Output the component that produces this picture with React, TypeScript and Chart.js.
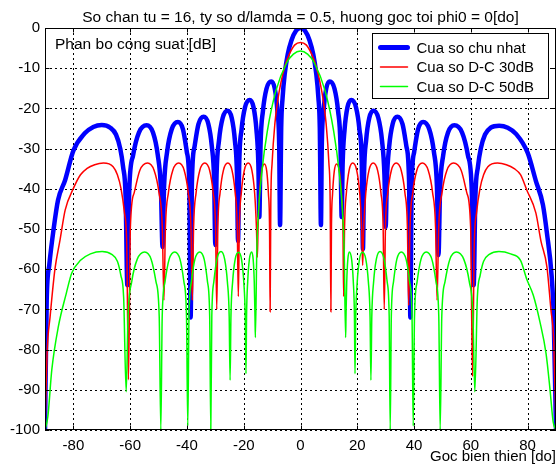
import React, { useEffect, useRef } from "react";
import { Chart, registerables } from "chart.js";

Chart.register(...registerables);

const titleText = "So chan tu = 16, ty so d/lamda = 0.5, huong goc toi phi0 = 0[do]";
const yAxisText = "Phan bo cong suat [dB]";
const xAxisText = "Goc bien thien [do]";
const seriesNames = ["Cua so chu nhat", "Cua so D-C 30dB", "Cua so D-C 50dB"];
const seriesColors = ["#0000ff", "#ff0000", "#00ff00"];
const xTickValues = [-80, -60, -40, -20, 0, 20, 40, 60, 80];
const yTickValues = [0, -10, -20, -30, -40, -50, -60, -70, -80, -90, -100];

// Rectangular window (uniform)
const rectAngles = [
  -90, -89.4, -88.5, -87, -85.4, -82.9, -80, -76, -73, -70, -67, -65, -63.5, -62.5, -61.6, -61,
  -60.32, -58.96, -56.92, -54.2, -51.96, -50.28, -49.16, -48.6,
  -48.06, -46.98, -45.36, -43.2, -41.4, -40.05, -39.15, -38.7,
  -38.24, -37.32, -35.94, -34.1, -32.46, -31.23, -30.41, -30,
  -29.57, -28.71, -27.42, -25.7, -24.22, -23.11, -22.37, -22,
  -21.59, -20.77, -19.54, -17.9, -16.54, -15.52, -14.84, -14.5,
  -14.08, -13.24, -11.98, -10.3, -9.06, -8.13, -7.5, -7.2,
  -6.8, -6.3, -5.5, -4.5, -3.2, -1.5, 0, 1.5, 3.2, 4.5, 5.5, 6.3, 6.8, 7.2,
  7.5, 8.13, 9.06, 10.3, 11.98, 13.24, 14.08, 14.5,
  14.84, 15.52, 16.54, 17.9, 19.54, 20.77, 21.59, 22,
  22.37, 23.11, 24.22, 25.7, 27.42, 28.71, 29.57, 30,
  30.41, 31.23, 32.46, 34.1, 35.94, 37.32, 38.24, 38.7,
  39.15, 40.05, 41.4, 43.2, 45.36, 46.98, 48.06, 48.6,
  49.16, 50.28, 51.96, 54.2, 56.92, 58.96, 60.32, 61,
  61.6, 62.5, 63.5, 65, 67, 70, 73, 76, 80, 82.9, 85.4, 86.8, 88.5, 89.2, 90,
];
const rectDb = [
  -100, -67.7, -59, -50.2, -42.8, -37.8, -30.5, -26.2, -24.6, -24.1, -24.8, -26.5, -30, -34.5, -42, -64,
  -40.2, -31.6, -26, -24.2, -26, -31.6, -40.2, -54.5,
  -39.4, -30.8, -25.2, -23.4, -25.2, -30.8, -39.4, -72,
  -38.1, -29.5, -23.9, -22.1, -23.9, -29.5, -38.1, -54,
  -36.6, -28, -22.4, -20.6, -22.4, -28, -36.6, -53,
  -33.9, -25.3, -19.7, -17.9, -19.7, -25.3, -33.9, -47,
  -29.3, -20.7, -15.1, -13.3, -15.1, -20.7, -29.3, -49,
  -25, -17.3, -11.1, -6.6, -3.1, -0.6, 0, -0.6, -3.1, -6.6, -11.1, -17.3, -25, -49,
  -29.3, -20.7, -15.1, -13.3, -15.1, -20.7, -29.3, -47,
  -33.9, -25.3, -19.7, -17.9, -19.7, -25.3, -33.9, -55,
  -36.6, -28, -22.4, -20.6, -22.4, -28, -36.6, -49.5,
  -38.1, -29.5, -23.9, -22.1, -23.9, -29.5, -38.1, -72,
  -39.4, -30.8, -25.2, -23.4, -25.2, -30.8, -39.4, -56.5,
  -40.2, -31.6, -26, -24.2, -26, -31.6, -40.2, -64,
  -42, -34.5, -30, -26.5, -24.8, -24.3, -24.8, -26.4, -31, -38, -44, -51, -62, -72, -100,
];

// Dolph-Chebyshev 30 dB
const dc30Angles = [
  -90, -89.2, -88.2, -86.5, -84.7, -82.9, -80, -77.5, -75.3, -72.5, -69.4, -66, -64.5, -63.2, -62, -61.2, -60.6,
  -59.93, -58.59, -56.58, -53.9, -51.58, -49.84, -48.68, -48.1,
  -47.58, -46.54, -44.98, -42.9, -40.98, -39.54, -38.58, -38.1,
  -37.66, -36.78, -35.46, -33.7, -32.02, -30.76, -29.92, -29.5,
  -29.11, -28.33, -27.16, -25.6, -24.12, -23.01, -22.27, -21.9,
  -21.55, -20.85, -19.8, -18.4, -17.12, -16.16, -15.52, -15.2,
  -14.95, -14.45, -13.7, -12.7, -11.9, -11.3, -10.9, -10.7,
  -10.46, -10, -9, -8, -6.9, -5.5, -4, -2, 0, 2, 4, 5.5, 6.9, 8, 9, 10, 10.46, 10.7,
  10.9, 11.3, 11.9, 12.7, 13.7, 14.45, 14.95, 15.2,
  15.52, 16.16, 17.12, 18.4, 19.8, 20.85, 21.55, 21.9,
  22.27, 23.01, 24.12, 25.6, 27.16, 28.33, 29.11, 29.5,
  29.92, 30.76, 32.02, 33.7, 35.46, 36.78, 37.66, 38.1,
  38.58, 39.54, 40.98, 42.9, 44.98, 46.54, 47.58, 48.1,
  48.68, 49.84, 51.58, 53.9, 56.58, 58.59, 59.93, 60.6,
  61.2, 62, 63.2, 64.5, 66, 69.4, 72.5, 75.3, 77.5, 79.7, 82.9, 84.7, 86.8, 88.2, 89.2, 90,
];
const dc30Db = [
  -100, -80, -71.8, -60, -52.7, -45.3, -39.9, -36.5, -35, -34, -33.6, -34.5, -36.5, -40, -46, -54, -87.5,
  -49.6, -41, -35.4, -33.6, -35.4, -41, -49.6, -67.7,
  -49.6, -41, -35.4, -33.6, -35.4, -41, -49.6, -67.7,
  -49.6, -41, -35.4, -33.6, -35.4, -41, -49.6, -70,
  -49.6, -41, -35.4, -33.6, -35.4, -41, -49.6, -66.8,
  -49.6, -41, -35.4, -33.6, -35.4, -41, -49.6, -57,
  -49.8, -41.2, -35.6, -33.8, -35.6, -41.2, -49.8, -70.6,
  -43.6, -33.6, -23.6, -17.9, -13.6, -9.5, -6.6, -4.2, -3.6, -4.2, -6.6, -9.5, -13.6, -17.9, -23.6, -33.6, -43.6, -70.6,
  -49.8, -41.2, -35.6, -33.8, -35.6, -41.2, -49.8, -66.8,
  -49.6, -41, -35.4, -33.6, -35.4, -41, -49.6, -59,
  -49.6, -41, -35.4, -33.6, -35.4, -41, -49.6, -70,
  -49.6, -41, -35.4, -33.6, -35.4, -41, -49.6, -69,
  -49.6, -41, -35.4, -33.6, -35.4, -41, -49.6, -67.7,
  -49.6, -41, -35.4, -33.6, -35.4, -41, -49.6, -86.7,
  -54, -46, -40, -36.5, -34.5, -33.6, -34, -35, -36.5, -40.3, -46, -53, -59.4, -70, -78, -100,
];

// Dolph-Chebyshev 50 dB
const dc50Angles = [
  -90, -89, -87.6, -85.3, -82.5, -80.6, -77.5, -74, -69.9, -66.5, -64.5, -63.3, -62.3, -61.4,
  -60.75, -59.45, -57.5, -54.9, -52.62, -50.91, -49.77, -49.2,
  -48.71, -47.73, -46.26, -44.3, -42.46, -41.08, -40.16, -39.7,
  -39.28, -38.44, -37.18, -35.5, -33.94, -32.77, -31.99, -31.6,
  -31.24, -30.52, -29.44, -28, -26.72, -25.76, -25.12, -24.8,
  -24.5, -23.9, -23, -21.8, -20.76, -19.98, -19.46, -19.2,
  -19, -18.6, -18, -17.2, -16.68, -16.29, -16.03, -15.9,
  -15.4, -14.8, -13.6, -11.7, -8.7, -4.9, -2.5, 0, 2.5, 4.9, 8.7, 11.7, 13.6, 14.8, 15.4, 15.9,
  16.03, 16.29, 16.68, 17.2, 18, 18.6, 19, 19.2,
  19.46, 19.98, 20.76, 21.8, 23, 23.9, 24.5, 24.8,
  25.12, 25.76, 26.72, 28, 29.44, 30.52, 31.24, 31.6,
  31.99, 32.77, 33.94, 35.5, 37.18, 38.44, 39.28, 39.7,
  40.16, 41.08, 42.46, 44.3, 46.26, 47.73, 48.71, 49.2,
  49.77, 50.91, 52.62, 54.9, 57.5, 59.45, 60.75, 61.4,
  62.3, 63.3, 64.5, 66.5, 69.9, 74, 77.5, 79.7, 82, 84.3, 86.5, 87.9, 89, 90,
];
const dc50Db = [
  -100, -96.7, -85, -74.3, -66, -61, -57.8, -56.2, -55.6, -56.3, -58, -61.5, -67, -90.5,
  -71.7, -63.1, -57.5, -55.7, -57.5, -63.1, -71.7, -100,
  -71.7, -63.1, -57.5, -55.7, -57.5, -63.1, -71.7, -99,
  -71.7, -63.1, -57.5, -55.7, -57.5, -63.1, -71.7, -100,
  -71.7, -63.1, -57.5, -55.6, -57.5, -63.1, -71.7, -87.6,
  -71.7, -63.1, -57.5, -55.8, -57.6, -63.2, -71.8, -86,
  -71.7, -63.1, -57.5, -55.7, -57.5, -63.1, -71.7, -77,
  -55.7, -45.7, -35.7, -25.7, -15.7, -8.7, -6.5, -5.7, -6.5, -8.7, -15.7, -25.7, -35.7, -45.7, -55.7, -77,
  -71.7, -63.1, -57.5, -55.7, -57.5, -63.1, -71.7, -86,
  -71.8, -63.2, -57.6, -55.8, -57.5, -63.1, -71.7, -87.6,
  -71.7, -63.1, -57.5, -55.6, -57.5, -63.1, -71.7, -100,
  -71.7, -63.1, -57.5, -55.7, -57.5, -63.1, -71.7, -99,
  -71.7, -63.1, -57.5, -55.7, -57.5, -63.1, -71.7, -100,
  -71.7, -63.1, -57.5, -55.7, -57.5, -63.1, -71.7, -90.5,
  -67, -61.5, -58, -56.3, -55.6, -56.2, -57.8, -62.5, -66.5, -73, -81, -90, -98, -100,
];

const FONT = "'Liberation Sans', Arial, Helvetica, sans-serif";
const FONT_SIZE = 15;
const TEXT_SIZE = 15.5;

const toPoints = (xs: number[], ys: number[]) => xs.map((x, i) => ({ x, y: ys[i] }));

const decorPlugin = {
  id: "matlabDecor",
  beforeDatasetsDraw(chart: any) {
    const { ctx, chartArea: a, scales } = chart;
    const xs = scales.x;
    const ys = scales.y;
    ctx.save();
    ctx.strokeStyle = "#000";
    ctx.lineWidth = 1;
    ctx.setLineDash([2, 3]);
    xTickValues.forEach((v) => {
      const px = Math.round(xs.getPixelForValue(v)) + 0.5;
      ctx.beginPath();
      ctx.moveTo(px, a.top);
      ctx.lineTo(px, a.bottom);
      ctx.stroke();
    });
    yTickValues.forEach((v) => {
      const py = Math.round(ys.getPixelForValue(v)) + 0.5;
      ctx.beginPath();
      ctx.moveTo(a.left, py);
      ctx.lineTo(a.right, py);
      ctx.stroke();
    });
    ctx.restore();
  },
  afterDatasetsDraw(chart: any) {
    const { ctx, chartArea: a, scales } = chart;
    const xs = scales.x;
    const ys = scales.y;
    ctx.save();
    ctx.setLineDash([]);
    ctx.strokeStyle = "#000";
    ctx.lineWidth = 1;
    const L = Math.round(a.left) + 0.5;
    const R = Math.round(a.right) - 0.5;
    const T = Math.round(a.top) + 0.5;
    const B = Math.round(a.bottom) - 0.5;
    ctx.strokeRect(L, T, R - L, B - T);
    // inward tick marks
    const tk = 4;
    xTickValues.forEach((v) => {
      const px = Math.round(xs.getPixelForValue(v)) + 0.5;
      ctx.beginPath();
      ctx.moveTo(px, B);
      ctx.lineTo(px, B - tk);
      ctx.moveTo(px, T);
      ctx.lineTo(px, T + tk);
      ctx.stroke();
    });
    yTickValues.forEach((v) => {
      const py = Math.round(ys.getPixelForValue(v)) + 0.5;
      ctx.beginPath();
      ctx.moveTo(L, py);
      ctx.lineTo(L + tk, py);
      ctx.moveTo(R, py);
      ctx.lineTo(R - tk, py);
      ctx.stroke();
    });

    ctx.fillStyle = "#000";
    ctx.font = `${TEXT_SIZE}px ${FONT}`;
    ctx.textBaseline = "alphabetic";
    // title
    ctx.textAlign = "center";
    ctx.fillText(titleText, (a.left + a.right) / 2, a.top - 6);
    // y label inside plot
    ctx.textAlign = "left";
    ctx.fillText(yAxisText, a.left + 10, a.top + 21);
    // x label bottom right
    ctx.font = `${FONT_SIZE}px ${FONT}`;
    ctx.textAlign = "right";
    ctx.fillText(xAxisText, a.right, chart.height - 3);

    // legend
    const bw = 176;
    const bh = 65;
    const bx = Math.round(a.right - 8 - bw) + 0.5;
    const by = Math.round(a.top + 5) + 0.5;
    ctx.fillStyle = "#fff";
    ctx.fillRect(bx, by, bw, bh);
    ctx.strokeStyle = "#000";
    ctx.lineWidth = 1;
    ctx.strokeRect(bx, by, bw, bh);
    const widths = [5, 1.5, 1.5];
    seriesNames.forEach((name, i) => {
      const cy = by + 14 + i * 19.5;
      ctx.strokeStyle = seriesColors[i];
      ctx.lineWidth = widths[i];
      ctx.lineCap = "round";
      ctx.beginPath();
      ctx.moveTo(bx + 8, cy);
      ctx.lineTo(bx + 35, cy);
      ctx.stroke();
      ctx.fillStyle = "#000";
      ctx.textAlign = "left";
      ctx.textBaseline = "middle";
      ctx.fillText(name, bx + 44, cy + 1);
    });
    ctx.restore();
  },
};

export default function App() {
  const canvasRef = useRef<HTMLCanvasElement | null>(null);

  useEffect(() => {
    document.body.style.margin = "0";
    const canvas = canvasRef.current;
    if (!canvas) return;
    const chart = new Chart(canvas, {
      type: "line",
      data: {
        datasets: [
          {
            label: seriesNames[0],
            data: toPoints(rectAngles, rectDb),
            borderColor: seriesColors[0],
            borderWidth: 4.5,
            pointRadius: 0,
            cubicInterpolationMode: "monotone",
            borderJoinStyle: "round",
            borderCapStyle: "round",
            order: 3,
          },
          {
            label: seriesNames[1],
            data: toPoints(dc30Angles, dc30Db),
            borderColor: seriesColors[1],
            borderWidth: 1.5,
            pointRadius: 0,
            cubicInterpolationMode: "monotone",
            order: 2,
          },
          {
            label: seriesNames[2],
            data: toPoints(dc50Angles, dc50Db),
            borderColor: seriesColors[2],
            borderWidth: 1.5,
            pointRadius: 0,
            cubicInterpolationMode: "monotone",
            order: 1,
          },
        ],
      },
      options: {
        responsive: false,
        maintainAspectRatio: false,
        devicePixelRatio: 1,
        animation: false,
        layout: { padding: { top: 28, right: 4, left: 0, bottom: 0 } },
        plugins: {
          legend: { display: false },
          title: { display: false },
          tooltip: { enabled: false },
        },
        scales: {
          x: {
            type: "linear",
            min: -90,
            max: 90,
            grid: { display: false, drawTicks: false },
            border: { display: false },
            afterBuildTicks: (s: any) => {
              s.ticks = xTickValues.map((v) => ({ value: v }));
            },
            afterFit: (s: any) => {
              s.height = 34;
            },
            ticks: {
              color: "#000",
              padding: 7,
              maxRotation: 0,
              autoSkip: false,
              font: { family: FONT, size: FONT_SIZE },
              callback: (v: any) => String(v),
            },
          },
          y: {
            type: "linear",
            min: -100,
            max: 0,
            grid: { display: false, drawTicks: false },
            border: { display: false },
            afterBuildTicks: (s: any) => {
              s.ticks = yTickValues.map((v) => ({ value: v }));
            },
            afterFit: (s: any) => {
              s.width = 45;
            },
            ticks: {
              color: "#000",
              padding: 5,
              autoSkip: false,
              font: { family: FONT, size: FONT_SIZE },
              callback: (v: any) => String(v),
            },
          },
        },
      },
      plugins: [decorPlugin],
    });
    return () => chart.destroy();
  }, []);

  return (
    <div style={{ position: "absolute", left: 0, top: 0, width: 560, height: 464, background: "#fff" }}>
      <canvas ref={canvasRef} width={560} height={464} style={{ display: "block" }} />
    </div>
  );
}
